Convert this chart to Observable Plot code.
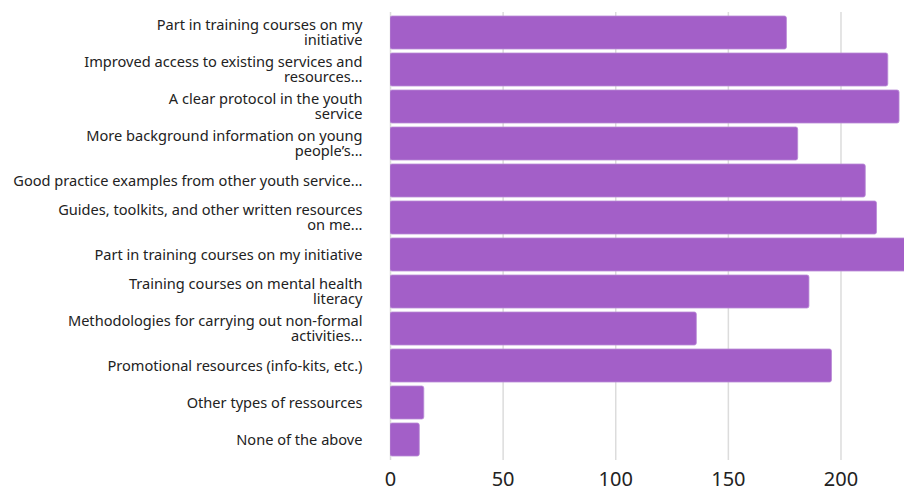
<!DOCTYPE html>
<html>
<head>
<meta charset="utf-8">
<script src="https://cdn.jsdelivr.net/npm/d3@7"></script>
<script src="https://cdn.jsdelivr.net/npm/@observablehq/plot@0.6"></script>
<style>
  html, body { margin: 0; padding: 0; background: #fff; overflow: hidden; }
  #chart { width: 904px; height: 491px; overflow: hidden; }
</style>
</head>
<body>
<div id="chart"></div>
<script>
const categories = [
  "Part in training courses on my\ninitiative",
  "Improved access to existing services and\nresources...",
  "A clear protocol in the youth\nservice",
  "More background information on young\npeople’s...",
  "Good practice examples from other youth service...",
  "Guides, toolkits, and other written resources\non me...",
  "Part in training courses on my initiative",
  "Training courses on mental health\nliteracy",
  "Methodologies for carrying out non-formal\nactivities...",
  "Promotional resources (info-kits, etc.)",
  "Other types of ressources",
  "None of the above"
];
const values = [176, 221, 226, 181, 211, 216, 240, 186, 136, 196, 15, 13];
const xTicks = [0, 50, 100, 150, 200];

const data = categories.map((c, i) => ({i, label: c, value: values[i]}));

const chart = Plot.plot({
  width: 904,
  height: 491,
  marginLeft: 390,
  marginRight: 0,
  marginTop: 12,
  marginBottom: 31,
  style: {fontFamily: "'Noto Sans', sans-serif", color: "#222", background: "#fff"},
  x: {domain: [0, 228.2]},
  y: {domain: d3.range(categories.length), paddingInner: 0.1, paddingOuter: 0, axis: null},
  marks: [
    Plot.gridX(xTicks, {stroke: "#dcdcdc", strokeOpacity: 1, strokeWidth: 1.5}),
    Plot.barX(data, {x: "value", y: "i", fill: "#a35fc8", stroke: "#b98ad6", strokeWidth: 0.8, rx: 2, clip: true}),
    Plot.text(data, {y: "i", text: "label", frameAnchor: "left", dx: -28, textAnchor: "end", lineAnchor: "middle", lineHeight: 1.0, fontSize: 14.6, fill: "#222"}),
    Plot.axisX(xTicks, {tickSize: 0, tickPadding: 11, fontSize: 20, fill: "#222", label: null})
  ]
});
document.getElementById("chart").appendChild(chart);
</script>
</body>
</html>
